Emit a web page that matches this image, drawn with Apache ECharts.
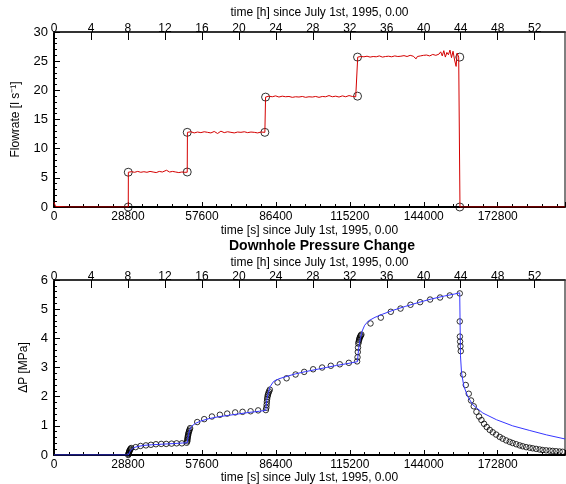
<!DOCTYPE html>
<html lang="en">
  <head>
    <meta charset="UTF-8" />
    <title>flowrate and pressure</title>
    <script src="https://cdn.jsdelivr.net/npm/echarts@6/dist/echarts.min.js"></script>
    <style>
      body {
        margin: 0;
        padding: 0;
        background: #fff;
      }

      #main {
        width: 566px;
        height: 484px;
      }
    </style>
  </head>

  <body>
    <div id="main"></div>
    <script>
      // time axis end [s]
      const tMax = 199000;

      // flowrate record [s], [l/s]
      const flowT = [
        0, 600, 1200, 5400, 5600, 5800, 14000, 14200, 14400, 21000, 21200, 21400,
        28920, 28960, 30200, 31400, 32600, 33800, 35000, 36200, 37400, 38600, 39800,
        41000, 42200, 43800, 45000, 46200, 47400, 48600, 49800, 51000, 51880,
        51960, 53300, 54600, 55900, 57200, 58500, 59800, 61100, 62400, 63700, 65000,
        66300, 67600, 68900, 70200, 71500, 72800, 74100, 75400, 76700, 78000, 79300,
        80600, 82120,
        82390, 83700, 85000, 86300, 87600, 88900, 90200, 91500, 92800, 94100, 95400,
        96700, 98000, 99300, 100600, 101900, 103200, 104500, 105800, 107100, 108400,
        109700, 111000, 112300, 113600, 114900, 116200, 117500, 118200,
        118280, 119500, 120700, 121900, 123100, 124300, 125500, 126700, 127900,
        129100, 130300, 131500, 132700, 133900, 135100, 136300, 137500, 138700,
        139900, 141000, 141500, 142700, 143900, 145100, 146300, 147500, 148700,
        149900, 150600, 151200, 151800, 152400, 153000, 153600, 154200, 154800,
        155400, 156000, 156600, 157000, 157600, 158020,
        158100, 199000,
      ];
      const flowQ = [
        0.8, 0.1, 0, 0, 0.2, 0, 0, 0.15, 0, 0, 0.15, 0,
        0, 5.96, 6.05, 5.95, 6.1, 5.95, 6.05, 5.95, 6.1, 6.0, 5.9,
        6.1, 6.0, 6.3, 6.0, 6.1, 6.0, 5.9, 6.0, 5.95, 5.96,
        12.8, 12.9, 12.7, 12.85, 12.75, 12.9, 12.8, 12.7, 12.95, 12.6, 13.0,
        12.75, 12.9, 12.8, 12.7, 12.85, 12.8, 12.9, 12.75, 12.85, 12.8, 12.7,
        12.85, 12.8,
        18.84, 19.0, 18.9, 19.05, 18.85, 19.0, 18.9, 18.95, 18.8, 18.9, 18.85,
        18.95, 18.8, 18.9, 18.85, 18.95, 18.8, 18.95, 18.9, 19.1, 18.9,
        19.0, 18.85, 19.05, 18.9, 19.1, 18.95, 18.9, 19.0,
        25.7, 25.8, 25.75, 25.85, 25.7, 25.8, 25.75, 25.9, 25.7,
        25.8, 25.85, 25.75, 25.9, 25.8, 25.85, 25.95, 25.8, 26.0,
        25.85, 25.4, 25.8, 25.9, 26.0, 26.05, 25.9, 26.15, 26.0,
        26.2, 26.6, 25.9, 26.8, 25.7, 26.5, 26.1, 26.9, 25.6,
        26.7, 25.2, 24.1, 26.4, 25.7, 25.7,
        0, 0,
      ];

      // step markers on the flowrate record
      const stepT = [28920, 28920, 51880, 51880, 82120, 82390, 118200, 118200, 158020, 158020];
      const stepQ = [0, 5.96, 6.0, 12.8, 12.8, 18.84, 19.0, 25.7, 25.7, 0];

      // measured pressure change [s], [MPa]
      const measT = [
        28900, 29000, 29100, 29200, 29300, 29450, 29600, 29800, 30050,
        31800, 33700, 35800, 37750, 39700, 41750, 43700, 45800, 47750, 49800, 51650,
        51900, 51950, 52000, 52100, 52200, 52300, 52450, 52600, 52800, 53000,
        55770, 58500, 61500, 64600, 67450, 70560, 73440, 76560, 79510, 82510,
        82700, 82800, 82900, 83000, 83150, 83300, 83500, 83750, 84050,
        87060, 90570, 94070, 97420, 100920, 104420, 107810, 111310, 114820, 118040,
        118200, 118300, 118400, 118500, 118650, 118800, 118950, 119100, 119300, 119500, 119700,
        123260, 127270, 131160, 134940, 138830, 142570, 146460, 150350, 154130, 158020,
        158020, 158060, 158150, 158280, 158410,
        159300, 160350, 161520, 162410, 163460, 164510, 165530, 166460, 167470, 168520,
        169690, 170850, 172200, 173560, 174730, 176090, 177450, 178620, 179980, 181340,
        182510, 183870, 185230, 186400, 187760, 189120, 190290, 191650, 193010, 194180,
        195540, 196900, 198070,
      ];
      const measP = [
        0, 0.03, 0.06, 0.09, 0.12, 0.15, 0.18, 0.21, 0.24,
        0.27, 0.31, 0.33, 0.35, 0.37, 0.38, 0.38, 0.39, 0.4, 0.4, 0.42,
        0.47, 0.52, 0.57, 0.62, 0.67, 0.72, 0.77, 0.82, 0.87, 0.92,
        1.13, 1.23, 1.32, 1.38, 1.42, 1.46, 1.48, 1.5, 1.53, 1.54,
        1.62, 1.72, 1.82, 1.92, 2.0, 2.06, 2.12, 2.18, 2.24,
        2.49, 2.63, 2.76, 2.85, 2.94, 3.0, 3.06, 3.11, 3.16, 3.21,
        3.35, 3.53, 3.68, 3.82, 3.88, 3.94, 3.99, 4.03, 4.07, 4.1, 4.13,
        4.51, 4.71, 4.91, 5.02, 5.15, 5.24, 5.33, 5.4, 5.47, 5.54,
        4.58, 4.06, 3.89, 3.73, 3.56,
        2.76, 2.4, 2.1, 1.87, 1.67, 1.48, 1.32, 1.2, 1.07, 0.96,
        0.86, 0.78, 0.7, 0.62, 0.56, 0.5, 0.45, 0.41, 0.37, 0.33,
        0.3, 0.27, 0.25, 0.23, 0.21, 0.19, 0.17, 0.16, 0.15, 0.14,
        0.13, 0.12, 0.11,
      ];

      // model pressure change [s], [MPa]
      const modelT = [
        0, 28900, 29200, 29600, 30100, 31000, 32500, 35000, 38000, 42000, 46000, 50000, 51900,
        52100, 52400, 52800, 53500, 55000, 57000, 60000, 64000, 68000, 72000, 76000, 80000, 82500,
        82700, 83000, 83500, 84200, 85500, 87500, 90000, 94000, 98000, 102000, 106000, 110000, 114000, 118200,
        118400, 118800, 119300, 120000, 121000, 122500, 125000, 128000, 132000, 137000, 142000, 147000, 152000, 156000, 158000,
        158150, 158300, 158700, 159600, 161100, 163100, 167000, 172300, 178600, 185300, 191800, 199000,
      ];
      const modelP = [
        0, 0, 0.06, 0.13, 0.19, 0.25, 0.29, 0.33, 0.35, 0.37, 0.39, 0.41, 0.42,
        0.55, 0.7, 0.85, 0.98, 1.08, 1.16, 1.24, 1.31, 1.36, 1.41, 1.46, 1.5, 1.53,
        1.75, 1.95, 2.15, 2.35, 2.52, 2.61, 2.68, 2.78, 2.86, 2.93, 3.0, 3.07, 3.13, 3.2,
        3.45, 3.75, 4.0, 4.25, 4.45, 4.6, 4.72, 4.83, 4.96, 5.1, 5.23, 5.35, 5.45, 5.52, 5.56,
        4.5, 3.4, 2.82, 2.36, 2.01, 1.72, 1.44, 1.21, 1.0, 0.84, 0.69, 0.55,
      ];

      const zip = (xs, ys) => xs.map((x, i) => [x, ys[i]]);
      const font = "Liberation Sans, Arial, sans-serif";
      const timeName = "time [s] since July 1st, 1995, 0.00";
      const hourName = "time [h] since July 1st, 1995, 0.00";

      const secAxis = (grid, gap) => ({
        type: "value",
        gridIndex: grid,
        position: "bottom",
        min: 0,
        max: tMax,
        interval: 28800,
        name: timeName,
        nameLocation: "middle",
        nameGap: gap,
        nameTextStyle: { fontFamily: font, fontSize: 12, color: "#000" },
        axisLine: { lineStyle: { color: "#000", width: 2 } },
        axisTick: { inside: true, length: 5, lineStyle: { color: "#000" } },
        minorTick: { show: true, splitNumber: 5, length: 3, lineStyle: { color: "#000" } },
        axisLabel: {
          fontFamily: font,
          fontSize: 12,
          color: "#000",
          margin: 4,
          showMaxLabel: false,
          formatter: (v) => String(v),
        },
        splitLine: { show: false },
      });

      const hourAxis = (grid, gap) => ({
        type: "value",
        gridIndex: grid,
        position: "top",
        min: 0,
        max: tMax / 3600,
        interval: 4,
        name: hourName,
        nameLocation: "middle",
        nameGap: gap,
        nameTextStyle: { fontFamily: font, fontSize: 12, color: "#000", padding: [0, 0, 0, 20] },
        axisLine: { lineStyle: { color: "#333", width: 2 } },
        axisTick: { inside: true, length: 8, lineStyle: { color: "#000" } },
        axisLabel: {
          fontFamily: font,
          fontSize: 12,
          color: "#000",
          margin: -3,
          showMaxLabel: false,
        },
        splitLine: { show: false },
      });

      const yAxis = (grid, max, interval, name, gap) => ({
        type: "value",
        gridIndex: grid,
        min: 0,
        max: max,
        interval: interval,
        name: name,
        nameLocation: "middle",
        nameRotate: 90,
        nameGap: gap,
        nameTextStyle: { fontFamily: font, fontSize: 12, color: "#000" },
        axisLine: { show: true, lineStyle: { color: "#000", width: 2 } },
        axisTick: { inside: true, length: 6, lineStyle: { color: "#000" } },
        minorTick: { show: true, splitNumber: 5, length: 3, lineStyle: { color: "#000" } },
        axisLabel: { fontFamily: font, fontSize: 13, color: "#000", margin: 6 },
        splitLine: { show: false },
      });

      const chart = echarts.init(document.getElementById("main"));
      chart.setOption({
        animation: false,
        backgroundColor: "#fff",
        title: {
          text: "Downhole Pressure Change",
          left: 229,
          top: 239,
          padding: 0,
          textStyle: { fontFamily: font, fontSize: 14, fontWeight: "bold", color: "#000" },
        },
        grid: [
          {
            left: 54, right: 1, top: 32, height: 175,
            outerBoundsMode: "none",
            show: true, borderColor: "#000", borderWidth: 1,
          },
          {
            left: 54, right: 1, top: 280, height: 175,
            outerBoundsMode: "none",
            show: true, borderColor: "#000", borderWidth: 1,
          },
        ],
        xAxis: [secAxis(0, 18), hourAxis(0, 13), secAxis(1, 16), hourAxis(1, 11)],
        yAxis: [
          yAxis(0, 30, 5, "Flowrate [l s\u207B\u00B9]", 32),
          yAxis(1, 6, 1, "\u0394P [MPa]", 20),
        ],
        series: [
          {
            type: "line",
            xAxisIndex: 0,
            yAxisIndex: 0,
            data: zip(flowT, flowQ),
            showSymbol: false,
            lineStyle: { color: "#d40000", width: 1 },
            silent: true,
          },
          {
            type: "scatter",
            xAxisIndex: 0,
            yAxisIndex: 0,
            data: zip(stepT, stepQ),
            symbol: "circle",
            symbolSize: 8,
            itemStyle: { color: "transparent", borderColor: "#000", borderWidth: 1 },
            silent: true,
          },
          {
            type: "line",
            xAxisIndex: 2,
            yAxisIndex: 1,
            data: zip(modelT, modelP),
            showSymbol: false,
            lineStyle: { color: "#3636ff", width: 1 },
            silent: true,
          },
          {
            type: "scatter",
            xAxisIndex: 2,
            yAxisIndex: 1,
            data: zip(measT, measP),
            symbol: "circle",
            symbolSize: 5.5,
            itemStyle: { color: "transparent", borderColor: "#000", borderWidth: 1 },
            silent: true,
          },
        ],
      });
    </script>
  </body>
</html>
